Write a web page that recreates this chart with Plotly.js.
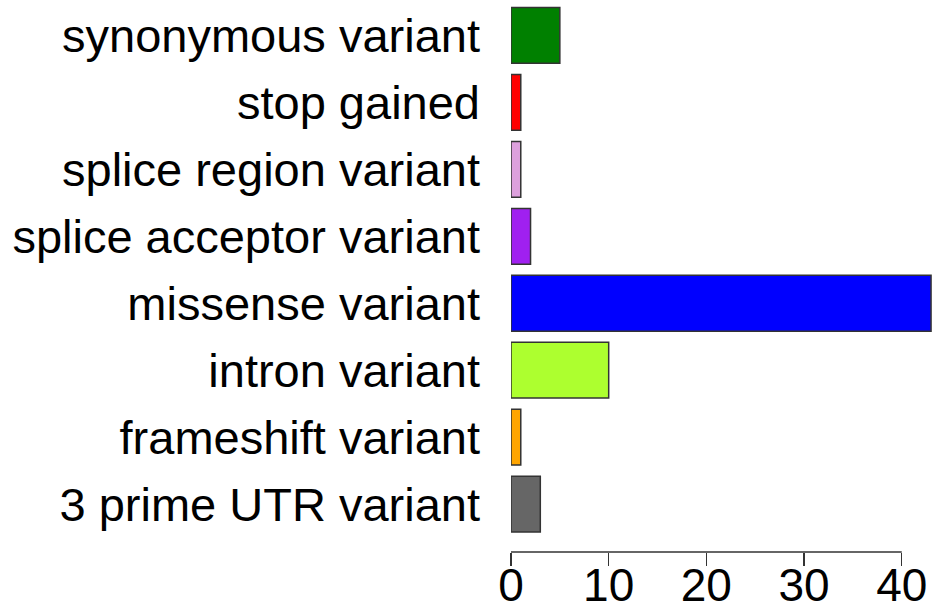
<!DOCTYPE html>
<html><head><meta charset="utf-8">
<script src="https://cdn.plot.ly/plotly-3.0.1.min.js"></script>
<style>html,body{margin:0;padding:0;background:#fff}#chart{width:945px;height:613px}</style>
</head><body><div id="chart"></div>
<script>
const categories = ["3 prime UTR variant","frameshift variant","intron variant","missense variant","splice acceptor variant","splice region variant","stop gained","synonymous variant"];
const counts = [3, 1, 10, 43, 2, 1, 1, 5];
const barColors = ["#666666","#FFA500","#ADFF2F","#0000FF","#A020F0","#DDA0DD","#FF0000","#008000"];
const xTicks = [0, 10, 20, 30, 40];

const trace = {
  type: 'bar', orientation: 'h',
  y: categories, x: counts,
  marker: {color: barColors, line: {color: '#333333', width: 1.5}},
  hoverinfo: 'none'
};
const layout = {
  width: 945, height: 613,
  margin: {l: 511, r: 12, t: 1.5, b: 61},
  paper_bgcolor: '#ffffff', plot_bgcolor: '#ffffff',
  font: {family: 'Liberation Sans, Arial, sans-serif', size: 47, color: '#000'},
  bargap: 1/6,
  showlegend: false,
  xaxis: {
    range: [0, 43.2], tickvals: xTicks, ticktext: xTicks.map(String),
    ticks: 'outside', ticklen: 13, tickwidth: 1.5, tickcolor: '#333',
    showgrid: false, zeroline: false, showline: false,
    tickfont: {size: 46, color: '#000'}, ticklabelstandoff: -20
  },
  yaxis: {
    type: 'category', range: [-0.716, 7.5],
    showgrid: false, zeroline: false, showline: false, ticks: '',
    ticklabelstandoff: 30,
    tickfont: {size: 47, color: '#000'}
  },
  shapes: [{
    type: 'line', xref: 'x', yref: 'paper',
    x0: xTicks[0], x1: xTicks[xTicks.length - 1], y0: 0, y1: 0,
    line: {color: '#333', width: 1.5}
  }]
};
Plotly.newPlot('chart', [trace], layout, {staticPlot: true, displayModeBar: false});
</script></body></html>
